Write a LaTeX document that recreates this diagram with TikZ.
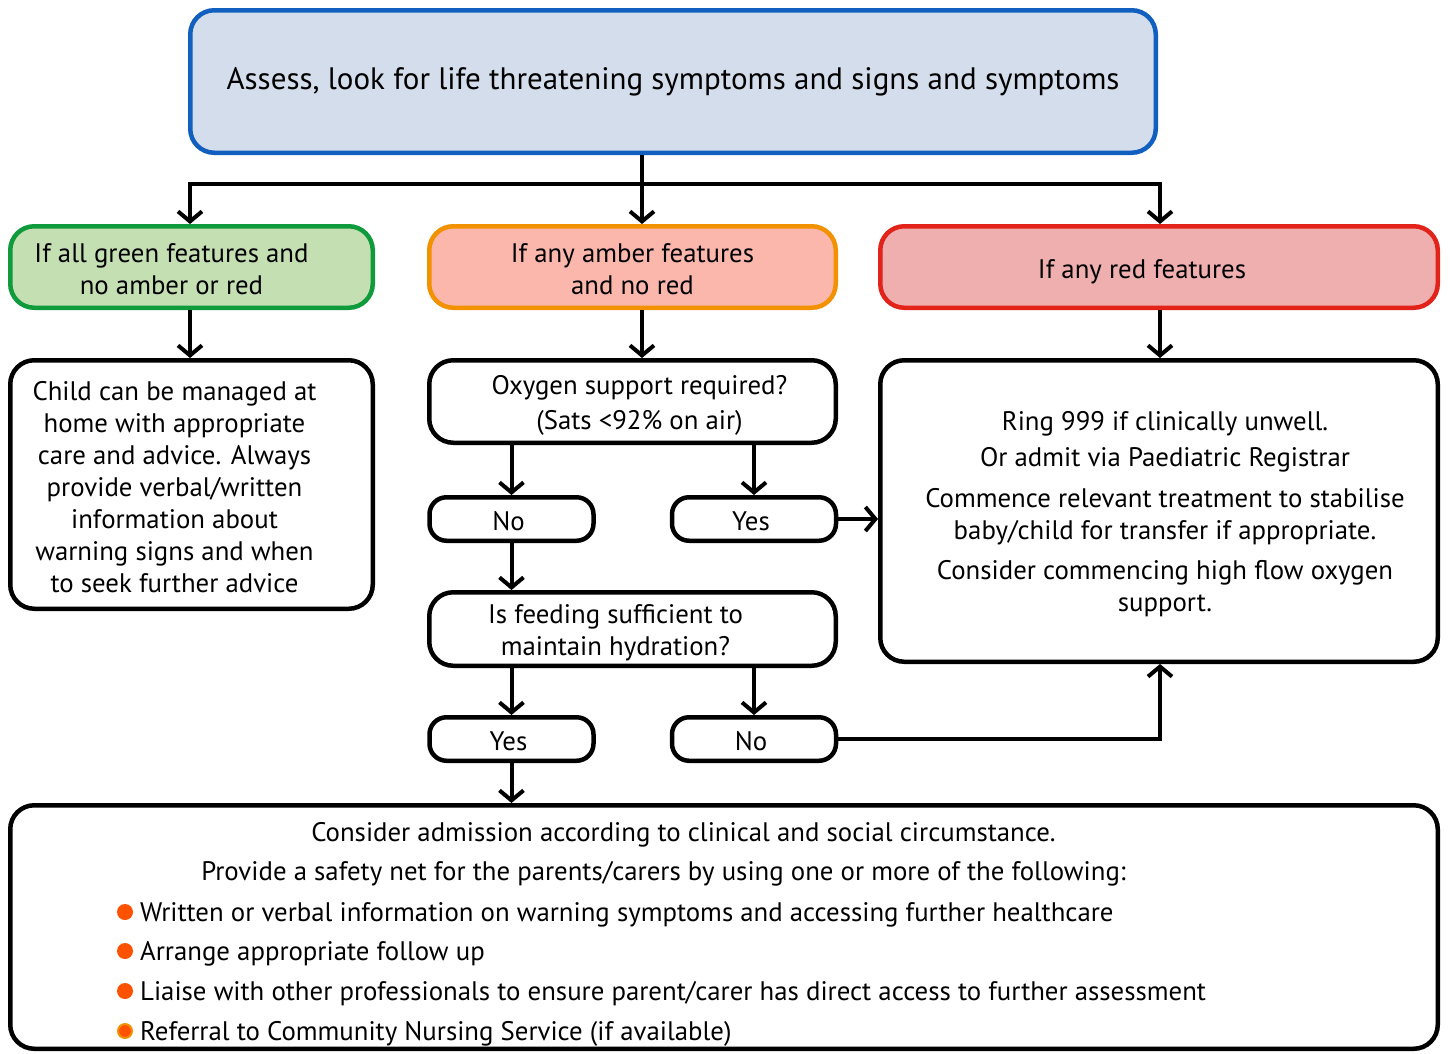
\documentclass[tikz,border=0pt]{standalone}
\usepackage{fontspec}
\setmainfont{PT Sans}
\usetikzlibrary{arrows.meta,calc}
\definecolor{topfill}{HTML}{D3DDEB}
\definecolor{topline}{HTML}{1160C0}
\definecolor{greenfill}{HTML}{C4DFB2}
\definecolor{greenline}{HTML}{0F9A3C}
\definecolor{amberfill}{HTML}{FCB7AD}
\definecolor{amberline}{HTML}{F39200}
\definecolor{redfill}{HTML}{EFAFAF}
\definecolor{redline}{HTML}{E2231A}
\definecolor{bullet}{HTML}{FF5200}
% lower a text block inside its box without changing the box size
\newcommand{\lowered}[2]{\raisebox{-#1}[\height][\depth]{#2}}
\begin{document}
\begin{tikzpicture}[x=1pt,y=-1pt,
  base/.style={line width=4.5pt, rounded corners=24pt, align=center, inner sep=0pt,
    font=\fontsize{26.8}{32}\selectfont},
  plain/.style={base, draw=black, fill=white},
  small/.style={plain, rounded corners=17pt, minimum width=164pt, minimum height=43.5pt},
  txt/.style={inner sep=0pt, font=\fontsize{26.8}{32}\selectfont},
  arr/.style={line width=4pt, -{Straight Barb[length=10pt,width=24pt]}},
  dot/.style={circle, fill=bullet, inner sep=0pt, minimum size=16pt}
]
\useasboundingbox (0,0) rectangle (1450,1053);

% assessment box
\node[base, draw=topline, fill=topfill, minimum width=965.5pt, minimum height=142.5pt,
  font=\fontsize{31}{36}\selectfont] (top) at (673,81.5)
  {Assess, look for life threatening symptoms and signs and symptoms};

% triage boxes
\node[base, draw=greenline, fill=greenfill, minimum width=362.5pt, minimum height=81.5pt] (green) at (191.5,267)
  {\lowered{5pt}{\begin{tabular}{@{}c@{}}If all green features and\\ no amber or red\end{tabular}}\hspace*{40pt}};
\node[base, draw=amberline, fill=amberfill, minimum width=406.5pt, minimum height=81.5pt] (amber) at (632.5,267)
  {\lowered{5pt}{\begin{tabular}{@{}c@{}}If any amber features\\ and no red\end{tabular}}};
\node[base, draw=redline, fill=redfill, minimum width=557.5pt, minimum height=81.5pt] (red) at (1159,267)
  {\lowered{5pt}{If any red features}\hspace*{34pt}};

% green branch
\node[plain, minimum width=362.5pt, minimum height=248.5pt] (home) at (191.5,484.5)
  {\lowered{6pt}{\begin{tabular}{@{}c@{}}Child can be managed at\\ home with appropriate\\ care and advice. Always\\
   provide verbal/written\\ information about\\ warning signs and when\\ to seek further advice\end{tabular}}\hspace*{34pt}};

% amber branch
\node[plain, minimum width=406.5pt, minimum height=82.5pt] (oxy) at (632.5,401.5)
  {\hspace*{14pt}\lowered{4pt}{\begin{tabular}{@{}c@{}}Oxygen support required?\\[3pt] (Sats <92\% on air)\end{tabular}}};
\node[small] (no1) at (511.5,519) {\lowered{2pt}{No}\hspace*{6pt}};
\node[small] (yes1) at (754,519) {\lowered{2pt}{Yes}\hspace*{6pt}};
\node[plain, minimum width=406.5pt, minimum height=73.5pt] (feed) at (632.5,629)
  {\lowered{4pt}{\begin{tabular}{@{}c@{}}Is feeding sufficient to\\ maintain hydration?\end{tabular}}\hspace*{34pt}};
\node[small] (yes2) at (511.5,739) {\lowered{2pt}{Yes}\hspace*{6pt}};
\node[small] (no2) at (754,739) {\lowered{2pt}{No}\hspace*{6pt}};

% red branch
\node[plain, minimum width=557.5pt, minimum height=301.5pt] (urgent) at (1159,511)
  {\hspace*{12pt}\lowered{4pt}{\begin{tabular}{@{}c@{}}Ring 999 if clinically unwell.\\[4pt]
   Or admit via Paediatric Registrar\\[9pt]
   Commence relevant treatment to stabilise\\ baby/child for transfer if appropriate.\\[8pt]
   Consider commencing high flow oxygen\\ support.\end{tabular}}};

% safety-net box
\node[plain, minimum width=1427.5pt, minimum height=243.5pt] (net) at (724,927) {};
\node[txt, anchor=base] (n1) at (683.5,841) {Consider admission according to clinical and social circumstance.};
\node[txt, anchor=base] (n2) at (663.5,880) {Provide a safety net for the parents/carers by using one or more of the following:};
\node[dot] (d1) at (125,912) {};
\node[dot] (d2) at (125,951) {};
\node[dot] (d3) at (125,991) {};
\node[dot, draw=amberline, line width=2pt, minimum size=14pt] (d4) at (125,1031) {};
\node[txt, anchor=base west] (b1) at (140,921) {Written or verbal information on warning symptoms and accessing further healthcare};
\node[txt, anchor=base west] (b2) at (140,960) {Arrange appropriate follow up};
\node[txt, anchor=base west] (b3) at (140,1000) {Liaise with other professionals to ensure parent/carer has direct access to further assessment};
\node[txt, anchor=base west] (b4) at (140,1040) {Referral to Community Nursing Service (if available)};

% connectors
\coordinate (axis) at (642,0);
\coordinate (split) at (642,184);
\draw[line width=4pt] (top.south -| axis) -- (split);
\draw[arr] (split) -| (green.north -| 190,0);
\draw[arr] (split) -| (red.north -| 1160,0);
\draw[arr] (split) -- (amber.north -| axis);

\draw[arr] (green.south -| 190,0) -- (home.north -| 190,0);
\draw[arr] (amber.south -| axis) -- (oxy.north -| axis);
\draw[arr] (red.south -| 1160,0) -- (urgent.north -| 1160,0);

\draw[arr] (oxy.south -| no1) -- (no1.north);
\draw[arr] (oxy.south -| yes1) -- (yes1.north);
\draw[arr] (yes1.east) -- (yes1.east -| urgent.west);
\draw[arr] (no1.south) -- (feed.north -| no1);
\draw[arr] (feed.south -| yes2) -- (yes2.north);
\draw[arr] (feed.south -| no2) -- (no2.north);
\draw[arr] (no2.east) -| (urgent.south -| 1160,0);
\draw[arr] (yes2.south) -- (net.north -| yes2);
\end{tikzpicture}
\end{document}
